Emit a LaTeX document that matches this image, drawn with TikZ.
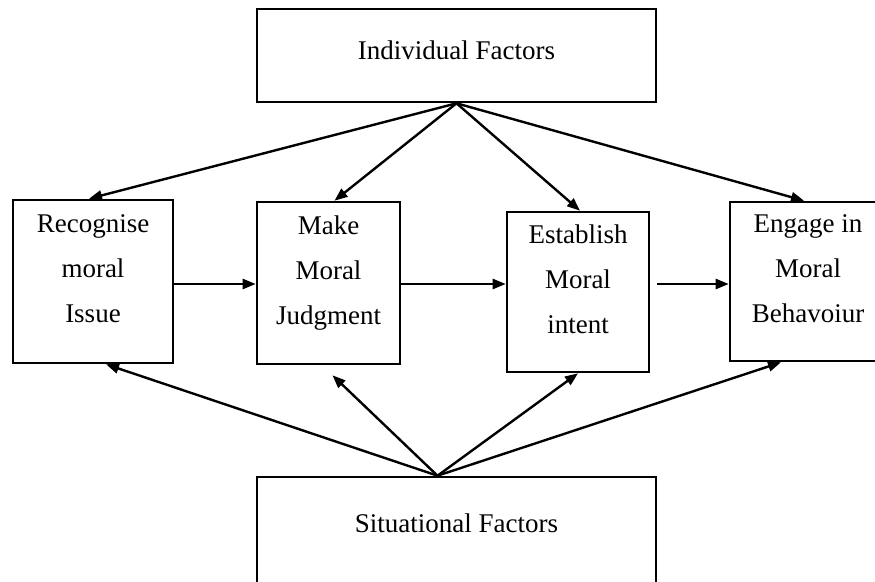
\documentclass[tikz,border=0pt]{standalone}
\usepackage{fontspec}
\setmainfont{Liberation Serif}
\usetikzlibrary{arrows.meta,calc}

\begin{document}
\begin{tikzpicture}[x=1pt,y=-1pt,
  box/.style={draw,line width=2.6pt,align=center,inner sep=0pt,
    font=\fontsize{27}{45}\selectfont},
  stagebox/.style={box,text depth=25pt},
  arr/.style={line width=2.4pt,-{Triangle[length=13pt,width=10pt]}}]
\clip (0,0) rectangle (875,581);
%Individual factors
  \node[box,minimum width=399pt,minimum height=93pt,text depth=11pt] (IF) at (456.5,55.5) {Individual Factors};
%First stage
  \node[stagebox,minimum width=160pt,minimum height=163pt] (RM) at (93,281.5) {Recognise\\moral\\Issue};
%Second stage
  \node[stagebox,minimum width=143pt,minimum height=162pt] (MJ) at (328.5,283) {Make\\Moral\\Judgment};
%Third stage
  \node[stagebox,minimum width=142pt,minimum height=160pt] (EM) at (578,292) {Establish\\Moral\\intent};
%Fourth stage
  \node[stagebox,minimum width=156pt,minimum height=159pt] (EB) at (808,281.5) {Engage in\\Moral\\Behavoiur};
%Situational factors
  \node[box,minimum width=399pt,minimum height=124pt,text depth=32pt] (SF) at (456.5,539) {Situational Factors};
  \coordinate (SFtop) at ($(SF.north)+(-19,0)$);
  \coordinate (row) at (0,284);
% from above
  \draw[arr] (IF.south) -- ($(RM.north)+(-4,0)$);
  \draw[arr] (IF.south) -- ($(MJ.north)+(6,0)$);
  \draw[arr] (IF.south) -- ($(EM.north)+(2,0)$);
  \draw[arr] (IF.south) -- ($(EB.north)+(-4,0)$);
% stage to stage
  \draw[arr] (RM.east |- row) -- (MJ.west |- row);
  \draw[arr] (MJ.east |- row) -- (EM.west |- row);
  \draw[arr,shorten <=7pt] (EM.east |- row) -- (EB.west |- row);
% from below
  \draw[arr] (SFtop) -- ($(RM.south)+(13,0)$);
  \draw[arr] (SFtop) -- ($(MJ.south)+(4,10)$);
  \draw[arr] (SFtop) -- (EM.south);
  \draw[arr] (SFtop) -- ($(EB.south)+(-27,0)$);
\end{tikzpicture}
\end{document}
